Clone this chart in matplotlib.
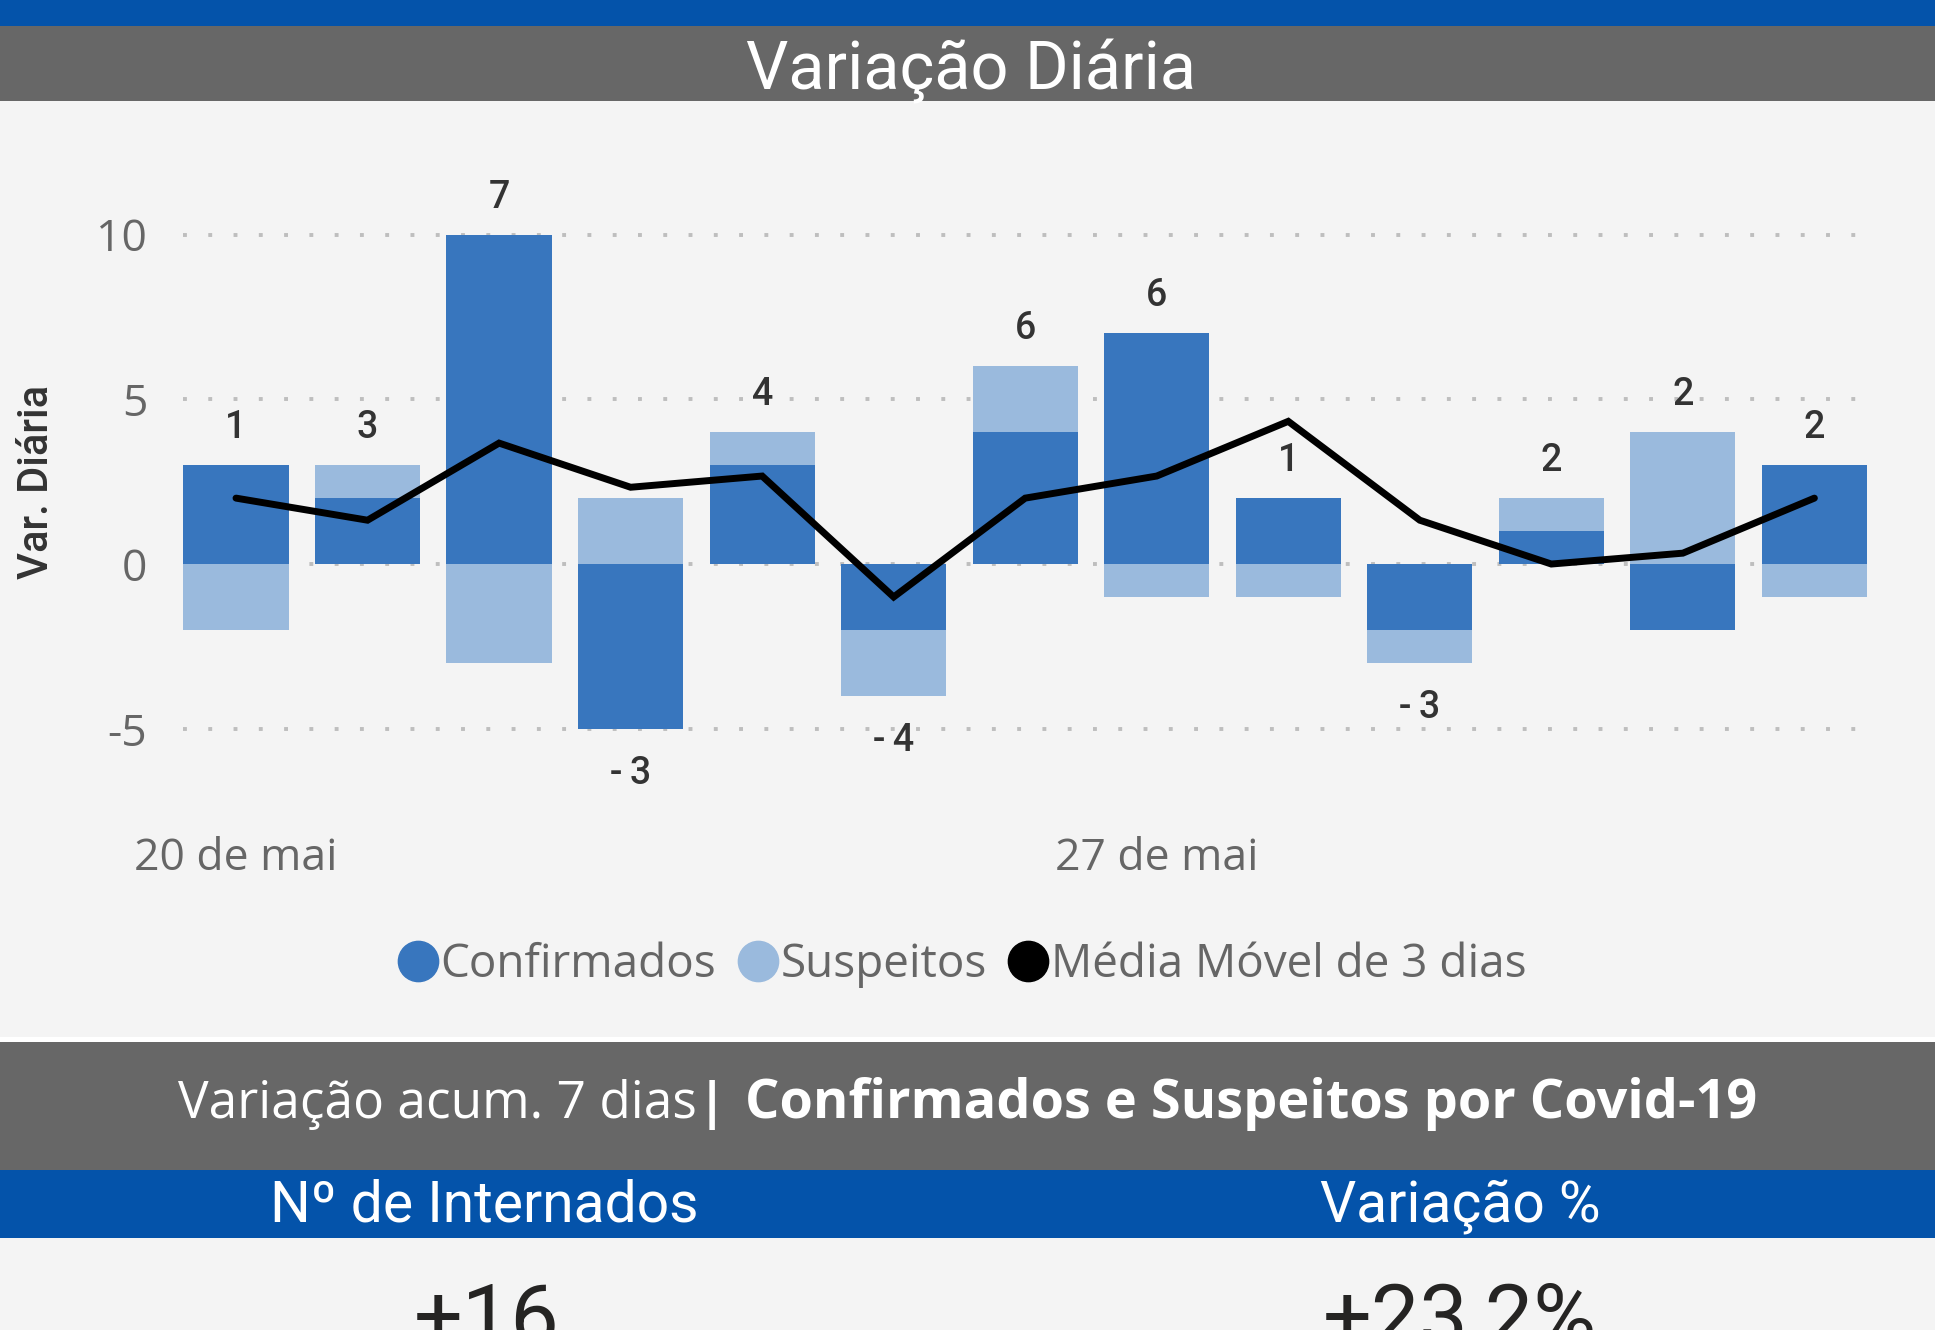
import numpy as np
import matplotlib.pyplot as plt
from matplotlib.patches import Rectangle
from matplotlib.lines import Line2D

plt.rcParams['axes.unicode_minus'] = False

# dados (20 de mai a 1 de jun)
dias = ['20 de mai', '21', '22', '23', '24', '25', '26', '27 de mai',
        '28', '29', '30', '31', '01']
confirmados = [3, 2, 10, -5, 3, -2, 4, 7, 2, -2, 1, -2, 3]
suspeitos = [-2, 1, -3, 2, 1, -2, 2, -1, -1, -1, 1, 4, -1]
media_movel = [2.0, 1.33, 3.67, 2.33, 2.67, -1.0, 2.0, 2.67, 4.33, 1.33, 0.0, 0.33, 2.0]
xtick_pos = [0, 7]
xtick_labels = ['20 de mai', '27 de mai']

azul = '#3876BE'
azul_claro = '#9ABADD'
cinza_band = '#676767'
azul_band = '#0453AA'
fundo = '#F4F4F4'

din = 'Roboto'
segoe = 'Open Sans'

W, H = 1935, 1330
fig = plt.figure(figsize=(W / 100, H / 100), dpi=100, facecolor=fundo)


def band(top, bottom, color):
    fig.add_artist(Rectangle((0, 1 - bottom / H), 1, (bottom - top) / H,
                             transform=fig.transFigure, color=color, lw=0, zorder=0))


band(0, 26, azul_band)
band(26, 101, cinza_band)
band(1037, 1042, 'white')
band(1042, 1170, cinza_band)
band(1170, 1238, azul_band)

fig.text(0.502, 1 - 90 / H, 'Variação Diária', color='white', fontsize=48,
         family=din, ha='center', va='baseline')

# eixo principal
ax = fig.add_axes([183.4 / W, 1 - 794.7 / H, (1867 - 183.4) / W, (794.7 - 168.6) / H])
ax.set_facecolor(fundo)
x = np.arange(len(dias))
conf = np.array(confirmados)
susp = np.array(suspeitos)
base_s = np.where(np.sign(susp) == np.sign(conf), conf, 0)

ax.bar(x, conf, width=0.8, color=azul, zorder=2)
ax.bar(x, susp, width=0.8, bottom=base_s, color=azul_claro, zorder=2)
ax.plot(x, media_movel, color='black', lw=5, solid_capstyle='round',
        solid_joinstyle='miter', zorder=3)

total = conf + susp
topo = np.maximum(np.maximum(conf, 0), np.maximum(base_s + susp, 0))
fundo_bar = np.minimum(np.minimum(conf, 0), np.minimum(base_s + susp, 0))
for i, t in enumerate(total):
    if t >= 0:
        ax.annotate(str(t), (i, topo[i]), xytext=(0, 27), textcoords='offset points',
                    ha='center', va='center', fontsize=27, family=din,
                    fontweight='medium', color='#333333')
    else:
        ax.annotate(str(t).replace('-', '-\u2009'), (i, fundo_bar[i]), xytext=(0, -32),
                    textcoords='offset points', ha='center', va='center',
                    fontsize=27, family=[din, 'DejaVu Sans'], fontweight='medium',
                    color='#333333')

ax.set_xlim(-0.4, 12.4)
ax.set_ylim(-7, 12)
ax.set_yticks([-5, 0, 5, 10])
ax.set_xticks(xtick_pos)
ax.set_xticklabels(xtick_labels)
ax.yaxis.grid(True, color='#BEBEBE', lw=2.8, linestyle=(0, (1, 5.5)), zorder=0)
ax.set_axisbelow(True)
for s in ax.spines.values():
    s.set_visible(False)
ax.tick_params(length=0, labelsize=32, labelcolor='#666666')
ax.tick_params(axis='y', pad=26)
ax.tick_params(axis='x', pad=30)
for lab in ax.get_xticklabels() + ax.get_yticklabels():
    lab.set_family(segoe)

fig.text(37 / W, 1 - 482 / H, 'Var. Diária', rotation=90, fontsize=30, family=din,
         fontweight='medium', color='#333333', ha='center', va='center')

handles = [Line2D([], [], marker='o', ls='', ms=29, color=azul),
           Line2D([], [], marker='o', ls='', ms=29, color=azul_claro),
           Line2D([], [], marker='o', ls='', ms=29, color='black')]
leg = fig.legend(handles, ['Confirmados', 'Suspeitos', 'Média Móvel de 3 dias'],
                 loc='center', bbox_to_anchor=(963 / W, 1 - 965 / H), ncol=3,
                 frameon=False, handlelength=0.8, handletextpad=0.1, columnspacing=0.5,
                 prop={'family': segoe, 'size': 33})
for t in leg.get_texts():
    t.set_color('#666666')

# rodapé
fig.text(697 / W, 1 - 1118 / H, 'Variação acum. 7 dias', color='white', fontsize=37,
         family=segoe, ha='right', va='baseline')
fig.text(712 / W, 1 - 1118 / H, '|', color='white', fontsize=37, family=segoe,
         fontweight='bold', ha='center', va='baseline')
fig.text(745 / W, 1 - 1118 / H, 'Confirmados e Suspeitos por Covid-19', color='white',
         fontsize=39, family=segoe, fontweight='bold', ha='left', va='baseline')

fig.text(484 / W, 1 - 1222 / H, 'Nº de Internados', color='white', fontsize=41,
         family=din, ha='center', va='baseline')
fig.text(1460 / W, 1 - 1222 / H, 'Variação %', color='white', fontsize=41,
         family=din, ha='center', va='baseline')

fig.text(487 / W, 1 - 1345 / H, '+16', color='#252423', fontsize=62,
         family=din, ha='center', va='baseline')
fig.text(1460 / W, 1 - 1345 / H, '+23,2%', color='#252423', fontsize=62,
         family=din, ha='center', va='baseline')

fig.savefig('out.png', dpi=100, facecolor=fundo)
